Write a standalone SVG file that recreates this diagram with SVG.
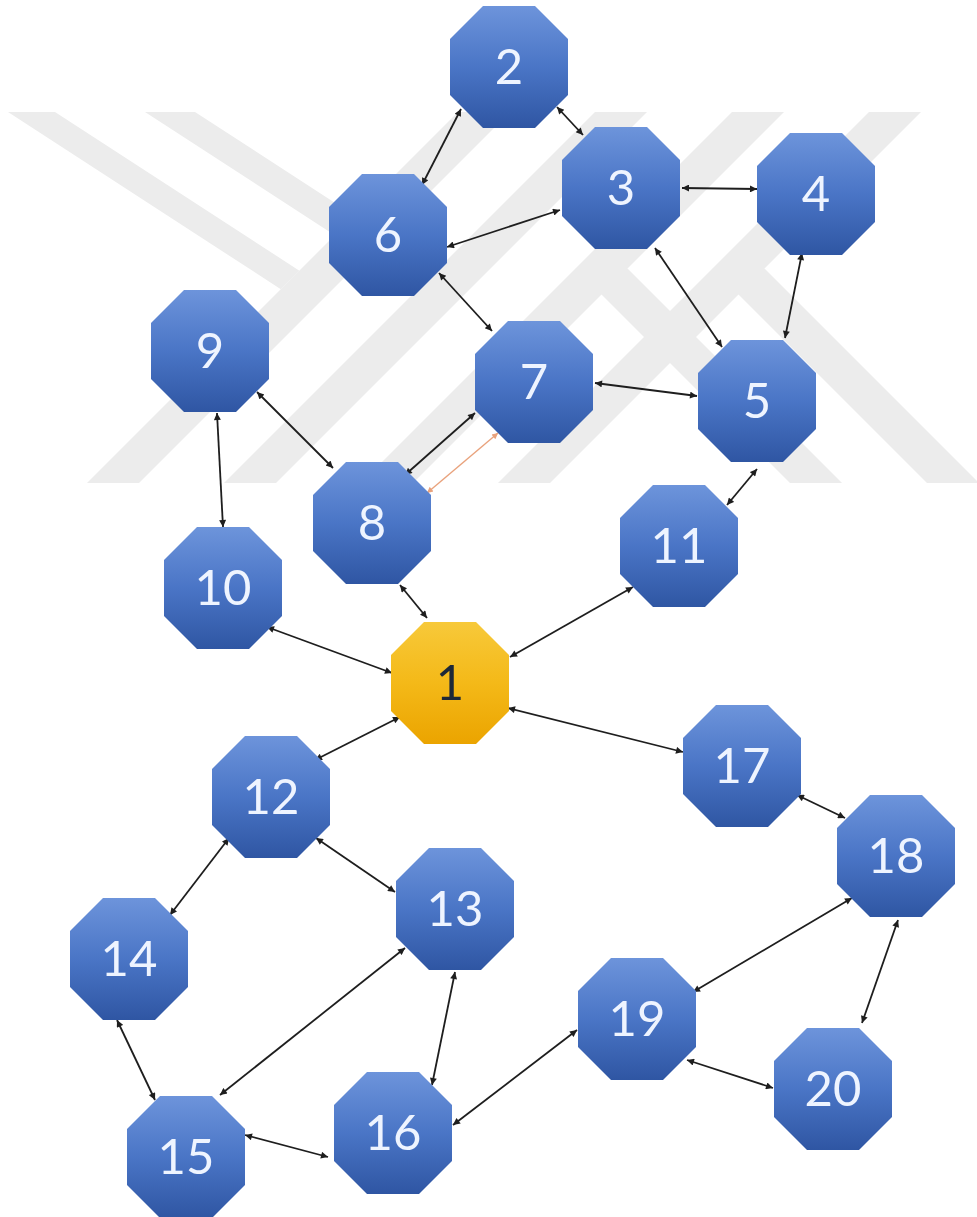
<svg xmlns="http://www.w3.org/2000/svg" width="977" height="1217" viewBox="0 0 977 1217">
<style>
.wm{fill:#ececec}
.oct{fill:url(#gb)}
.oct1{fill:url(#gy)}
.lbl{font-family:Lato,"Open Sans","Liberation Sans",sans-serif;font-size:49px;fill:#eef4ff;text-anchor:middle}
.lbl1{fill:#1d2838}
.e{stroke:#1e1e1e;stroke-width:1.8;fill:none;marker-start:url(#ah);marker-end:url(#ah)}
.eo{stroke:#e9a27c;stroke-width:1.4;fill:none;marker-start:url(#aho);marker-end:url(#aho)}
</style>
<defs>
<linearGradient id="gb" x1="0" y1="0" x2="0" y2="1">
<stop offset="0" stop-color="#6d94db"/>
<stop offset="0.5" stop-color="#4a75c6"/>
<stop offset="1" stop-color="#2f56a3"/>
</linearGradient>
<linearGradient id="gy" x1="0" y1="0" x2="0" y2="1">
<stop offset="0" stop-color="#f7c93a"/>
<stop offset="0.5" stop-color="#f4b918"/>
<stop offset="1" stop-color="#eba400"/>
</linearGradient>
<marker id="ah" viewBox="0 0 10 10" refX="10" refY="5" markerWidth="9" markerHeight="7" markerUnits="userSpaceOnUse" orient="auto-start-reverse">
<path d="M0,0 L10,5 L0,10 z" fill="#1e1e1e"/>
</marker>
<marker id="aho" viewBox="0 0 10 10" refX="10" refY="5" markerWidth="8" markerHeight="6" markerUnits="userSpaceOnUse" orient="auto-start-reverse">
<path d="M0,0 L10,5 L0,10 z" fill="#e9a27c"/>
</marker>
<polygon id="oc" points="-26,-61 26,-61 59,-28 59,28 26,61 -26,61 -59,28 -59,-28"/>
</defs>
<rect width="977" height="1217" fill="#ffffff"/>
<g id="watermark">
<polygon class="wm" points="458,112 510,112 139,483 87,483"/>
<polygon class="wm" points="595,112 647,112 276,483 224,483"/>
<polygon class="wm" points="732,112 784,112 413,483 361,483"/>
<polygon class="wm" points="869,112 921,112 550,483 498,483"/>
<polygon class="wm" points="8,112 55,112 299.4,270.7 280.8,289.2"/>
<polygon class="wm" points="145,112 195,112 437.5,269.5 417.8,289.2"/>
<polygon class="wm" points="575.5,268.5 627.5,268.5 842,483 790,483"/>
<polygon class="wm" points="712.5,268.5 764.5,268.5 979,483 927,483"/>
</g>
<g id="connectors">
<line class="e" x1="461" y1="109" x2="422" y2="185"/>
<line class="e" x1="557" y1="107" x2="583" y2="135"/>
<line class="e" x1="560" y1="210" x2="447" y2="247"/>
<line class="e" x1="682" y1="188" x2="757" y2="189"/>
<line class="e" x1="655" y1="248" x2="722" y2="347"/>
<line class="e" x1="802" y1="253" x2="785" y2="338"/>
<line class="e" x1="439" y1="273" x2="492" y2="331"/>
<line class="e" x1="595" y1="383" x2="697" y2="396"/>
<line class="e" x1="257" y1="392" x2="333" y2="468"/>
<line class="e" x1="217" y1="413" x2="223" y2="527"/>
<line class="e" x1="405" y1="475" x2="475" y2="413"/>
<line class="eo" x1="427" y1="493" x2="498" y2="433"/>
<line class="e" x1="400" y1="585" x2="427" y2="618"/>
<line class="e" x1="267" y1="627" x2="392" y2="673"/>
<line class="e" x1="400" y1="717" x2="315" y2="760"/>
<line class="e" x1="633" y1="587" x2="510" y2="657"/>
<line class="e" x1="757" y1="469" x2="727" y2="505"/>
<line class="e" x1="508" y1="708" x2="683" y2="752"/>
<line class="e" x1="797" y1="795" x2="845" y2="818"/>
<line class="e" x1="852" y1="898" x2="693" y2="992"/>
<line class="e" x1="898" y1="920" x2="862" y2="1023"/>
<line class="e" x1="687" y1="1060" x2="773" y2="1088"/>
<line class="e" x1="453" y1="1125" x2="577" y2="1030"/>
<line class="e" x1="455" y1="972" x2="432" y2="1085"/>
<line class="e" x1="405" y1="948" x2="220" y2="1095"/>
<line class="e" x1="316" y1="838" x2="395" y2="892"/>
<line class="e" x1="229" y1="838" x2="170" y2="915"/>
<line class="e" x1="117" y1="1020" x2="155" y2="1100"/>
<line class="e" x1="245" y1="1135" x2="328" y2="1157"/>
</g>
<g id="n1" transform="translate(450,683)"><use href="#oc" class="oct1"/><text class="lbl lbl1" y="17">1</text></g>
<g id="n2" transform="translate(509,67)"><use href="#oc" class="oct"/><text class="lbl" y="17">2</text></g>
<g id="n3" transform="translate(621,188)"><use href="#oc" class="oct"/><text class="lbl" y="17">3</text></g>
<g id="n4" transform="translate(816,194)"><use href="#oc" class="oct"/><text class="lbl" y="17">4</text></g>
<g id="n5" transform="translate(757,401)"><use href="#oc" class="oct"/><text class="lbl" y="17">5</text></g>
<g id="n6" transform="translate(388,235)"><use href="#oc" class="oct"/><text class="lbl" y="17">6</text></g>
<g id="n7" transform="translate(534,382)"><use href="#oc" class="oct"/><text class="lbl" y="17">7</text></g>
<g id="n8" transform="translate(372,523)"><use href="#oc" class="oct"/><text class="lbl" y="17">8</text></g>
<g id="n9" transform="translate(210,351)"><use href="#oc" class="oct"/><text class="lbl" y="17">9</text></g>
<g id="n10" transform="translate(223,588)"><use href="#oc" class="oct"/><text class="lbl" y="17">10</text></g>
<g id="n11" transform="translate(679,546)"><use href="#oc" class="oct"/><text class="lbl" y="17">11</text></g>
<g id="n12" transform="translate(271,797)"><use href="#oc" class="oct"/><text class="lbl" y="17">12</text></g>
<g id="n13" transform="translate(455,909)"><use href="#oc" class="oct"/><text class="lbl" y="17">13</text></g>
<g id="n14" transform="translate(129,959)"><use href="#oc" class="oct"/><text class="lbl" y="17">14</text></g>
<g id="n15" transform="translate(186,1157)"><use href="#oc" class="oct"/><text class="lbl" y="17">15</text></g>
<g id="n16" transform="translate(393,1133)"><use href="#oc" class="oct"/><text class="lbl" y="17">16</text></g>
<g id="n17" transform="translate(742,766)"><use href="#oc" class="oct"/><text class="lbl" y="17">17</text></g>
<g id="n18" transform="translate(896,856)"><use href="#oc" class="oct"/><text class="lbl" y="17">18</text></g>
<g id="n19" transform="translate(637,1019)"><use href="#oc" class="oct"/><text class="lbl" y="17">19</text></g>
<g id="n20" transform="translate(833,1089)"><use href="#oc" class="oct"/><text class="lbl" y="17">20</text></g>
</svg>
